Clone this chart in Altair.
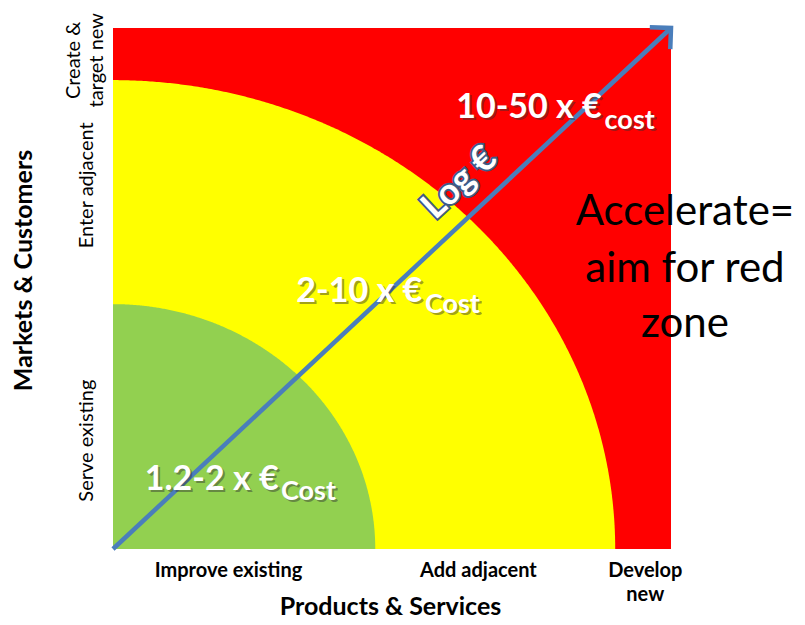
import altair as alt
import pandas as pd

# ---- data ----
x_labels = ["Improve existing", "Add adjacent", "Develop|new"]
x_label_pos = [0.206, 0.654, 0.953]
y_labels = ["Serve existing", "Enter adjacent", "Create &|target new"]
y_label_pos = [0.209, 0.699, 0.939]
x_title = "Products & Services"
y_title = "Markets & Customers"

domain = [0.0, 1.0]
zone_radius = [0.90, 0.47]
zone_color = ["#FFFF00", "#92D050"]
background_color = "#FF0000"

cost_main = ["1.2-2 x €", "2-10 x €", "10-50 x €"]
cost_sub = ["Cost", "Cost", "cost"]
cost_x = [0.297, 0.554, 0.876]
cost_y = [0.113, 0.474, 0.827]
cost_sub_x = [0.301, 0.559, 0.881]
cost_sub_y = [0.094, 0.453, 0.806]

arrow_x = [0.0, 1.0]
arrow_y = [0.0, 1.0]
arrow_label = ["Log €"]
arrow_label_x = [0.621]
arrow_label_y = [0.703]

note_lines = ["Accelerate=", "aim for red", "zone"]
note_x = [1.025, 1.025, 1.025]
note_y = [0.622, 0.512, 0.407]

FONT = "Lato"
BLUE = "#4A7EBB"


def label_expr(pos, labels):
    expr = f"split('{labels[-1]}', '|')"
    for i in range(len(pos) - 2, -1, -1):
        mid = (pos[i] + pos[i + 1]) / 2
        expr = f"datum.value < {mid:.4f} ? split('{labels[i]}', '|') : ({expr})"
    return expr


xs = alt.Scale(domain=domain, nice=False, zero=False)
ys = alt.Scale(domain=domain, nice=False, zero=False)

x_axis = alt.Axis(
    values=x_label_pos, labelExpr=label_expr(x_label_pos, x_labels),
    title=x_title, domain=False, ticks=False, grid=False,
    labelFont=FONT, labelFontSize=20, labelFontWeight="bold", labelColor="black",
    labelPadding=27, labelBaseline="alphabetic", labelLineHeight=24, labelAngle=0,
    labelAlign="center", labelFlush=False, labelOverlap=False, labelBound=False,
    titleFont=FONT, titleFontSize=25, titleFontWeight="bold", titleColor="black",
    titleX=277, titleY=65, titleAlign="center", titleBaseline="alphabetic", titleAngle=0,
)
# two-line label sits further out so that its lines straddle the single-line labels
y_axis = alt.Axis(
    values=y_label_pos, labelExpr=label_expr(y_label_pos, y_labels),
    title=y_title, domain=False, ticks=False, grid=False,
    labelFont=FONT, labelFontSize=20, labelColor="black",
    labelPadding={"condition": {"test": f"datum.value > {(y_label_pos[1] + y_label_pos[2]) / 2:.4f}",
                                "value": 40}, "value": 27},
    labelBaseline="middle", labelLineHeight=23, labelAngle=270,
    labelAlign="center", labelFlush=False, labelOverlap=False, labelBound=False,
    titleFont=FONT, titleFontSize=25, titleFontWeight="bold", titleColor="black",
    titleX=-82, titleY=242, titleAlign="center", titleBaseline="alphabetic", titleAngle=270,
)


def X(field):
    return alt.X(field, scale=xs, axis=x_axis)


def Y(field):
    return alt.Y(field, scale=ys, axis=y_axis)


bg_df = pd.DataFrame({"x": [domain[0]], "x1": [domain[1]], "y": [domain[0]], "y1": [domain[1]]})
background = alt.Chart(bg_df).mark_rect(color=background_color).encode(
    x=X("x:Q"), x2="x1:Q", y=Y("y:Q"), y2="y1:Q",
)


def zone_layer(r, color):
    return alt.Chart(alt.sequence(0, 90.25, 0.25, as_="deg")).transform_calculate(
        x=f"{r}*cos(datum.deg*PI/180)", y=f"{r}*sin(datum.deg*PI/180)"
    ).mark_area(color=color, opacity=1).encode(x=X("x:Q"), y=Y("y:Q"))


zones = [zone_layer(r, c) for r, c in zip(zone_radius, zone_color)]

arrow_df = pd.DataFrame({"x": arrow_x, "y": arrow_y})
arrow = alt.Chart(arrow_df).mark_line(color=BLUE, strokeWidth=4.5).encode(x=X("x:Q"), y=Y("y:Q"))
head = alt.Chart(arrow_df.tail(1)).mark_point(
    shape="M -1 1 L 0 0 L 1 1", filled=False, stroke=BLUE, strokeWidth=4.5,
    size=900, angle=47, opacity=1, strokeJoin="miter",
).encode(x=X("x:Q"), y=Y("y:Q"))

log_df = pd.DataFrame({"t": arrow_label, "x": arrow_label_x, "y": arrow_label_y})
log_base = alt.Chart(log_df).encode(x=X("x:Q"), y=Y("y:Q"), text="t:N")
log_kw = dict(font=FONT, fontSize=36, fontWeight="bold", angle=317, align="center", baseline="middle")
log_outline = log_base.mark_text(color="#3E5A86", stroke="#3E5A86", strokeWidth=4, **log_kw)
log_text = log_base.mark_text(color="white", **log_kw)

cost_df = pd.DataFrame({"main": cost_main, "sub": cost_sub, "x": cost_x, "y": cost_y,
                        "xs": cost_sub_x, "ys": cost_sub_y})
main_base = alt.Chart(cost_df).encode(x=X("x:Q"), y=Y("y:Q"), text="main:N")
sub_base = alt.Chart(cost_df).encode(x=X("xs:Q"), y=Y("ys:Q"), text="sub:N")
main_kw = dict(font=FONT, fontSize=34, fontWeight="bold", align="right", baseline="alphabetic")
sub_kw = dict(font=FONT, fontSize=27, fontWeight="bold", align="left", baseline="alphabetic")
main_shadow = main_base.mark_text(color="#333333", opacity=0.45, dx=2, dy=2, **main_kw)
main_text = main_base.mark_text(color="white", **main_kw)
sub_shadow = sub_base.mark_text(color="#333333", opacity=0.45, dx=2, dy=2, **sub_kw)
sub_text = sub_base.mark_text(color="white", **sub_kw)

note_df = pd.DataFrame({"t": note_lines, "x": note_x, "y": note_y})
note = alt.Chart(note_df).mark_text(
    font=FONT, fontSize=42, color="black", align="center", baseline="alphabetic"
).encode(x=X("x:Q"), y=Y("y:Q"), text="t:N")

chart = alt.layer(
    background, *zones, arrow, head, log_outline, log_text,
    main_shadow, main_text, sub_shadow, sub_text, note,
).properties(
    width=558, height=521,
    padding={"left": 105, "top": 20, "right": 126, "bottom": 68},
    autosize=alt.AutoSizeParams(type="none"),
).configure_view(stroke=None)

chart.save("out.html", embed_options={"renderer": "svg", "actions": False})
